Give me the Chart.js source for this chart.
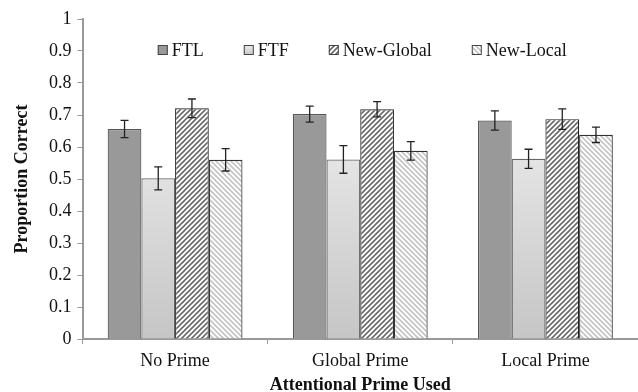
<!DOCTYPE html>
<html>
<head>
<meta charset="utf-8">
<script src="https://cdn.jsdelivr.net/npm/chart.js@4.4.1/dist/chart.umd.min.js"></script>
<style>
  html, body { margin: 0; padding: 0; background: #fff; }
  #wrap { width: 638px; height: 392px; }
</style>
</head>
<body>
<div id="wrap"><canvas id="myChart" width="638" height="392"></canvas></div>
<script>
// values
const categories = ['No Prime', 'Global Prime', 'Local Prime'];
const ftl = [0.656, 0.703, 0.683];
const ftlErr = [0.027, 0.025, 0.030];
const ftf = [0.502, 0.561, 0.563];
const ftfErr = [0.036, 0.043, 0.030];
const newGlobal = [0.721, 0.718, 0.687];
const newGlobalErr = [0.029, 0.024, 0.032];
const newLocal = [0.560, 0.588, 0.638];
const newLocalErr = [0.035, 0.029, 0.024];
const yTicks = [0, 0.1, 0.2, 0.3, 0.4, 0.5, 0.6, 0.7, 0.8, 0.9, 1];

const serif = "'Liberation Serif', 'Times New Roman', Times, serif";

// diagonal hatch fill
function stripes(color, dir, size, lw) {
  let c = document.createElement('canvas');
  c.width = size; c.height = size;
  let g = c.getContext('2d');
  g.fillStyle = '#fff';
  g.fillRect(0, 0, size, size);
  g.strokeStyle = color;
  g.lineWidth = lw;
  g.beginPath();
  if (dir === '/') {
    g.moveTo(-1, 1); g.lineTo(1, -1);
    g.moveTo(0, size); g.lineTo(size, 0);
    g.moveTo(size - 1, size + 1); g.lineTo(size + 1, size - 1);
  } else {
    g.moveTo(0, 0); g.lineTo(size, size);
    g.moveTo(-1, size - 1); g.lineTo(1, size + 1);
    g.moveTo(size - 1, -1); g.lineTo(size + 1, 1);
  }
  g.stroke();
  return g.createPattern(c, 'repeat');
}

function ftfFill(context) {
  let area = context.chart.chartArea;
  if (!area) return '#d8d8d8';
  let y = context.chart.scales.y;
  let grad = context.chart.ctx.createLinearGradient(0, y.getPixelForValue(0.6), 0, area.bottom);
  grad.addColorStop(0, '#e6e6e6');
  grad.addColorStop(1, '#c6c6c6');
  return grad;
}

const errors = [ftlErr, ftfErr, newGlobalErr, newLocalErr];

const errorBars = {
  id: 'errorBars',
  afterDatasetsDraw(chart) {
    let ctx = chart.ctx;
    let y = chart.scales.y;
    ctx.save();
    ctx.strokeStyle = '#222';
    ctx.lineWidth = 1.3;
    chart.data.datasets.forEach((ds, i) => {
      let meta = chart.getDatasetMeta(i);
      meta.data.forEach((bar, j) => {
        let v = ds.data[j], e = errors[i][j];
        let top = y.getPixelForValue(v + e);
        let bot = y.getPixelForValue(v - e);
        ctx.beginPath();
        ctx.moveTo(bar.x, top); ctx.lineTo(bar.x, bot);
        ctx.moveTo(bar.x - 4, top); ctx.lineTo(bar.x + 4, top);
        ctx.moveTo(bar.x - 4, bot); ctx.lineTo(bar.x + 4, bot);
        ctx.stroke();
      });
    });
    ctx.restore();
  }
};

// legend drawn inside the plot, one row
const innerLegend = {
  id: 'innerLegend',
  afterDraw(chart) {
    let ctx = chart.ctx;
    let area = chart.chartArea;
    let box = 10, gap = 4, between = 40;
    ctx.save();
    ctx.font = '18px ' + serif;
    let items = chart.data.datasets.map((ds, i) => {
      let w = ctx.measureText(ds.label).width;
      return { ds, i, w };
    });
    let total = items.reduce((s, it) => s + box + gap + it.w, 0) + between * (items.length - 1);
    let x = (area.left + area.right) / 2 + 2 - total / 2;
    let cy = 50;
    items.forEach(it => {
      let fill = it.ds.backgroundColor;
      if (typeof fill === 'function') {
        let g = ctx.createLinearGradient(0, cy - box / 2, 0, cy + box / 2);
        g.addColorStop(0, '#ececec');
        g.addColorStop(1, '#c8c8c8');
        fill = g;
      }
      ctx.fillStyle = fill;
      ctx.fillRect(x, cy - box / 2, box, box);
      ctx.strokeStyle = '#444';
      ctx.lineWidth = 1;
      ctx.strokeRect(x + 0.5, cy - box / 2 + 0.5, box - 1, box - 1);
      ctx.fillStyle = '#111';
      ctx.textBaseline = 'middle';
      ctx.fillText(it.ds.label, x + box + gap, cy + 1);
      x += box + gap + it.w + between;
    });
    ctx.restore();
  }
};

let myChart = document.getElementById('myChart').getContext('2d');

let propChart = new Chart(myChart, {
  type: 'bar',
  data: {
    labels: categories,
    datasets: [
      { label: 'FTL', data: ftl, backgroundColor: '#999999', borderColor: '#555', borderWidth: 1.2 },
      { label: 'FTF', data: ftf, backgroundColor: ftfFill, borderColor: '#666', borderWidth: 1.2 },
      { label: 'New-Global', data: newGlobal, backgroundColor: stripes('#6a6a6a', '/', 5, 1.6), borderColor: '#222', borderWidth: 1.2 },
      { label: 'New-Local', data: newLocal, backgroundColor: stripes('#c4c4c4', '\\', 5, 1.6), borderColor: '#333', borderWidth: 1.2 }
    ]
  },
  options: {
    responsive: false,
    animation: false,
    layout: { padding: { top: 19, right: 0, left: 7, bottom: -2 } },
    datasets: {
      bar: { categoryPercentage: 0.728, barPercentage: 1.0 }
    },
    scales: {
      x: {
        grid: { offset: true, drawOnChartArea: false, color: '#999', tickLength: 5 },
        border: { color: '#999', width: 2 },
        ticks: { color: '#111', font: { family: serif, size: 18, lineHeight: 1 }, padding: 8 },
        title: { display: true, text: 'Attentional Prime Used', color: '#111', font: { family: serif, size: 18, weight: 'bold', lineHeight: 1 }, padding: { top: -2, bottom: 0 } }
      },
      y: {
        min: 0,
        max: 1,
        afterBuildTicks(scale) { scale.ticks = yTicks.map(v => ({ value: v })); },
        grid: { drawOnChartArea: false, color: '#999', tickLength: 5 },
        border: { color: '#999', width: 2 },
        ticks: { color: '#111', font: { family: serif, size: 18, lineHeight: 1 }, padding: 6, callback: v => String(+v.toFixed(1)) },
        title: { display: true, text: 'Proportion Correct', color: '#111', font: { family: serif, size: 18, weight: 'bold', lineHeight: 1 }, padding: { top: 6, bottom: 12 } }
      }
    },
    plugins: {
      legend: { display: false },
      tooltip: { enabled: false }
    }
  },
  plugins: [errorBars, innerLegend]
});
</script>
</body>
</html>
